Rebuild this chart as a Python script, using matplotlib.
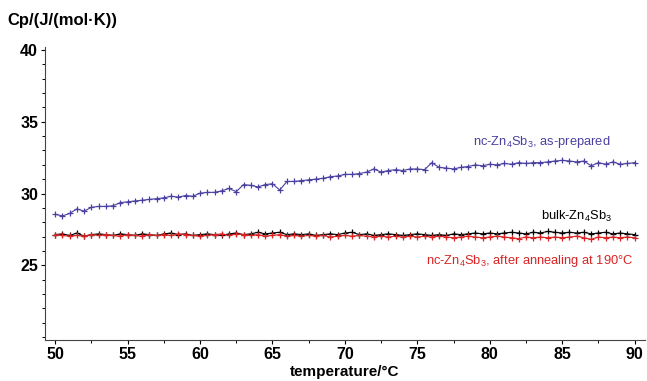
import numpy as np
import matplotlib
matplotlib.use("Agg")
import matplotlib.pyplot as plt
from matplotlib.ticker import MultipleLocator

plt.rcParams['font.family'] = ['Liberation Sans', 'DejaVu Sans']
plt.rcParams['mathtext.fontset'] = 'custom'
plt.rcParams['mathtext.rm'] = 'Liberation Sans'

# temperature grid, deg C
temp = np.arange(50, 90.01, 0.5)

# Cp values, J/(mol K)
cp_nc_prepared = [
    28.55, 28.44, 28.61, 28.93, 28.77, 29.04, 29.10, 29.10, 29.15, 29.37,
    29.42, 29.48, 29.53, 29.59, 29.64, 29.70, 29.81, 29.75, 29.86, 29.81,
    30.02, 30.08, 30.08, 30.19, 30.35, 30.13, 30.62, 30.57, 30.46, 30.62,
    30.68, 30.24, 30.84, 30.84, 30.90, 30.95, 31.00, 31.06, 31.17, 31.22,
    31.33, 31.33, 31.39, 31.49, 31.71, 31.49, 31.60, 31.66, 31.60, 31.71,
    31.71, 31.66, 32.15, 31.82, 31.77, 31.71, 31.82, 31.88, 31.99, 31.93,
    32.04, 31.99, 32.09, 32.04, 32.15, 32.09, 32.15, 32.15, 32.20, 32.26,
    32.31, 32.26, 32.20, 32.26, 31.93, 32.15, 32.04, 32.20, 32.04, 32.09,
    32.15]
cp_bulk = [
    27.14, 27.19, 27.08, 27.25, 27.03, 27.14, 27.19, 27.14, 27.08, 27.19,
    27.14, 27.08, 27.19, 27.14, 27.08, 27.19, 27.25, 27.14, 27.19, 27.08,
    27.14, 27.19, 27.14, 27.08, 27.19, 27.25, 27.14, 27.19, 27.30, 27.19,
    27.25, 27.30, 27.14, 27.19, 27.14, 27.19, 27.08, 27.14, 27.19, 27.14,
    27.25, 27.30, 27.14, 27.19, 27.08, 27.14, 27.19, 27.14, 27.08, 27.14,
    27.19, 27.14, 27.08, 27.14, 27.08, 27.19, 27.14, 27.19, 27.25, 27.19,
    27.25, 27.19, 27.25, 27.30, 27.25, 27.19, 27.30, 27.25, 27.36, 27.30,
    27.25, 27.30, 27.25, 27.30, 27.19, 27.25, 27.30, 27.19, 27.25, 27.19,
    27.14]
cp_nc_annealed = [
    27.14, 27.08, 27.03, 27.08, 27.03, 27.14, 27.08, 27.14, 27.08, 27.03,
    27.14, 27.08, 27.03, 27.14, 27.08, 27.14, 27.08, 27.19, 27.14, 27.08,
    27.03, 27.08, 27.14, 27.19, 27.08, 27.19, 27.14, 27.08, 27.14, 27.03,
    27.08, 27.14, 27.03, 27.08, 27.03, 27.08, 27.03, 27.08, 26.97, 27.03,
    27.08, 27.03, 27.08, 27.03, 26.97, 27.03, 26.97, 27.03, 26.97, 27.03,
    26.97, 27.03, 26.97, 27.03, 26.97, 26.92, 26.97, 27.03, 26.97, 26.92,
    26.97, 27.03, 26.97, 26.92, 26.86, 26.97, 26.92, 26.97, 26.92, 26.97,
    26.92, 26.97, 27.03, 26.92, 26.81, 26.97, 26.92, 26.97, 26.92, 26.97,
    26.92]

blue = '#4a40a0'
red = '#d82424'

fig = plt.figure(figsize=(6.47, 3.81), dpi=100)
ax = fig.add_axes([0.0696, 0.1076, 0.927, 0.769])

ax.plot(temp, cp_nc_prepared, color=blue, marker='+', ms=5, mew=0.9, lw=0.8)
ax.plot(temp, cp_bulk, color='black', marker='+', ms=5, mew=0.9, lw=0.8)
ax.plot(temp, cp_nc_annealed, color=red, marker='+', ms=5, mew=0.9, lw=0.8)

ax.set_xlim(49.3, 90.7)
ax.set_ylim(19.8, 40.2)
ax.set_xticks([50, 55, 60, 65, 70, 75, 80, 85, 90])
ax.xaxis.set_minor_locator(MultipleLocator(2.5))
ax.set_yticks([25, 30, 35, 40])
ax.yaxis.set_minor_locator(MultipleLocator(1))
ax.tick_params(which='major', length=3, width=0.8, labelsize=11.5, pad=2)
ax.tick_params(which='minor', length=2.5, width=0.7)
for lab in ax.get_xticklabels() + ax.get_yticklabels():
    lab.set_fontweight('bold')

for side in ['top', 'right']:
    ax.spines[side].set_visible(False)
ax.spines['left'].set_color('#444444')
ax.spines['bottom'].set_color('#444444')

ax.set_xlabel('temperature/°C', fontsize=11, fontweight='bold', labelpad=2)
fig.text(0.012, 0.947, 'Cp/(J/(mol·K))', fontsize=12, fontweight='bold',
         ha='left', va='center')

ax.text(0.942, 0.675, r'nc-Zn$_4$Sb$_3$, as-prepared', transform=ax.transAxes,
        color=blue, fontsize=9.3, ha='right', va='center')
ax.text(0.945, 0.42, r'bulk-Zn$_4$Sb$_3$', transform=ax.transAxes,
        color='black', fontsize=9.3, ha='right', va='center')
ax.text(0.98, 0.268, r'nc-Zn$_4$Sb$_3$, after annealing at 190°C', transform=ax.transAxes,
        color=red, fontsize=9.3, ha='right', va='center')

fig.savefig('out.png', dpi=100)
